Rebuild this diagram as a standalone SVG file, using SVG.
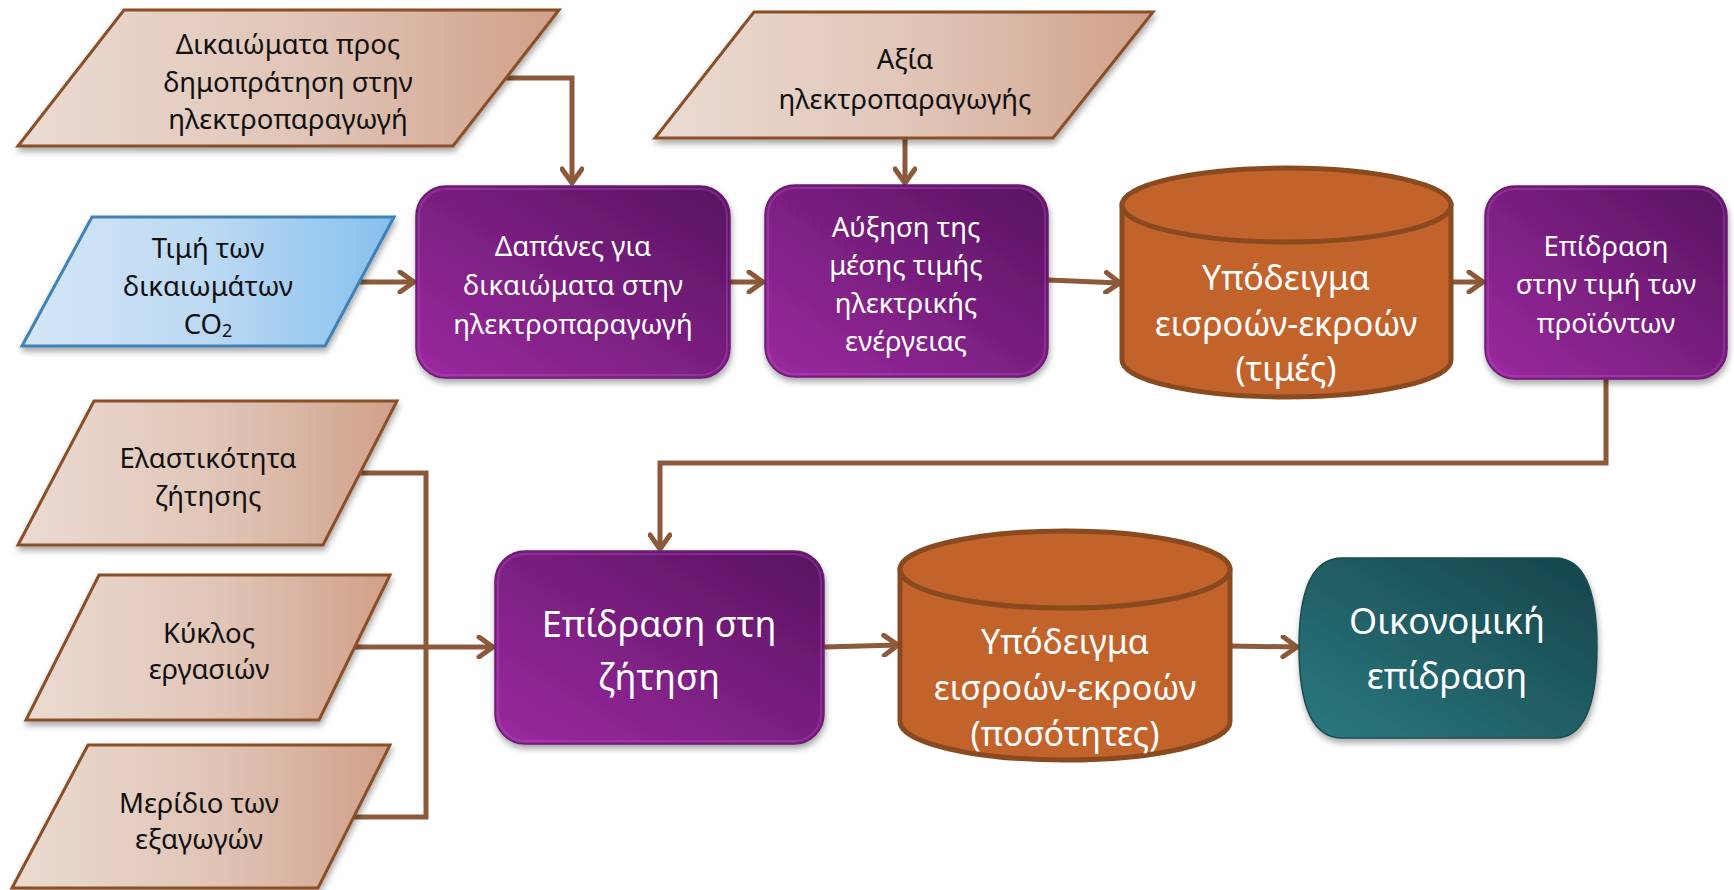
<svg xmlns="http://www.w3.org/2000/svg" width="1734" height="890" viewBox="0 0 1734 890">
<defs>
<linearGradient id="parGrad" x1="0" y1="0" x2="1" y2="0"><stop offset="0" stop-color="#ebdbd2"/><stop offset="0.55" stop-color="#e0c4b6"/><stop offset="1" stop-color="#d0a089"/></linearGradient>
<linearGradient id="blueGrad" x1="0" y1="0" x2="1" y2="0"><stop offset="0" stop-color="#d4e6f7"/><stop offset="0.5" stop-color="#bcd9f3"/><stop offset="1" stop-color="#86c0ee"/></linearGradient>
<linearGradient id="purpleGrad" x1="1" y1="0" x2="0" y2="1"><stop offset="0" stop-color="#561360"/><stop offset="0.5" stop-color="#7a1f80"/><stop offset="1" stop-color="#9b2aa0"/></linearGradient>
<linearGradient id="tealGrad" x1="1" y1="0" x2="0" y2="1"><stop offset="0" stop-color="#17444a"/><stop offset="1" stop-color="#2a7980"/></linearGradient>
<filter id="shadow" x="-10%" y="-10%" width="120%" height="130%"><feDropShadow dx="1" dy="4" stdDeviation="3" flood-color="#000" flood-opacity="0.35"/></filter>
<marker id="arrow" viewBox="0 0 20 24" refX="17" refY="12" markerWidth="20" markerHeight="24" markerUnits="userSpaceOnUse" orient="auto"><path d="M3,2 L17,12 L3,22" fill="none" stroke="#8c5a3a" stroke-width="5" stroke-linecap="round" stroke-linejoin="round"/></marker>
</defs>
<style>
.par{fill:url(#parGrad);stroke:#8a4f27;stroke-width:3;filter:url(#shadow)}
.blue{fill:url(#blueGrad);stroke:#3f81b6;stroke-width:3;filter:url(#shadow)}
.proc{fill:url(#purpleGrad);stroke:#6a1d70;stroke-width:1.5;filter:url(#shadow)}
.bevel{fill:none;stroke:#c050c8;stroke-opacity:0.35;stroke-width:2}
.cyl{fill:#c3632c;stroke:#8a4a1f;stroke-width:5}
.term{fill:url(#tealGrad);stroke:#1a4c52;stroke-width:1.5;filter:url(#shadow)}
text{font-family:"Noto Sans","DejaVu Sans",sans-serif;text-anchor:middle;dominant-baseline:central}
.dark{fill:#111;font-size:27.5px}
.light{fill:#fff;font-size:27.5px}
.big{fill:#fff;font-size:36px}
.cylt{fill:#fff;font-size:34px}
.conn{fill:none;stroke:#8c5a3a;stroke-width:5}
</style>

<g id="connectors">
<path class="conn" d="M506,78 H572 V183" marker-end="url(#arrow)"/>
<path class="conn" d="M359,282 H414" marker-end="url(#arrow)"/>
<path class="conn" d="M905,138 V183" marker-end="url(#arrow)"/>
<path class="conn" d="M730,282 H763" marker-end="url(#arrow)"/>
<path class="conn" d="M1048,280 L1120,283" marker-end="url(#arrow)"/>
<path class="conn" d="M1451,282 H1483" marker-end="url(#arrow)"/>
<path class="conn" d="M1606,379 V463 H660 V549" marker-end="url(#arrow)"/>
<path class="conn" d="M360,473 H426 V647"/>
<path class="conn" d="M354,817 H426 V647"/>
<path class="conn" d="M355,647 H493" marker-end="url(#arrow)"/>
<path class="conn" d="M824,647 L898,645" marker-end="url(#arrow)"/>
<path class="conn" d="M1230,646 L1297,647" marker-end="url(#arrow)"/>
</g>

<g id="n-dikaiomata">
<polygon class="par" points="124,10 559,10 453,146 18,146"/>
<text class="dark" x="288" y="43">Δικαιώματα προς</text>
<text class="dark" x="288" y="81">δημοπράτηση στην</text>
<text class="dark" x="288" y="118">ηλεκτροπαραγωγή</text>
</g>

<g id="n-timi-co2">
<polygon class="blue" points="92,217 394,217 325,346 22,346"/>
<text class="dark" x="208" y="247">Τιμή των</text>
<text class="dark" x="208" y="285">δικαιωμάτων</text>
<text class="dark" x="208" y="323">CO<tspan font-size="18" dy="7">2</tspan></text>
</g>

<g id="n-dapanes">
<rect class="proc" x="416" y="186" width="314" height="192" rx="30"/>
<rect class="bevel" x="419" y="189" width="308" height="186" rx="27"/>
<text class="light" x="573" y="245">Δαπάνες για</text>
<text class="light" x="573" y="284">δικαιώματα στην</text>
<text class="light" x="573" y="323">ηλεκτροπαραγωγή</text>
</g>

<g id="n-axia">
<polygon class="par" points="754,12 1153,12 1053,138 655,138"/>
<text class="dark" x="905" y="58">Αξία</text>
<text class="dark" x="905" y="98">ηλεκτροπαραγωγής</text>
</g>

<g id="n-afxisi">
<rect class="proc" x="765" y="185" width="283" height="192" rx="30"/>
<rect class="bevel" x="768" y="188" width="277" height="186" rx="27"/>
<text class="light" x="906" y="226">Αύξηση της</text>
<text class="light" x="906" y="264">μέσης τιμής</text>
<text class="light" x="906" y="302">ηλεκτρικής</text>
<text class="light" x="906" y="340">ενέργειας</text>
</g>

<g id="n-ypodeigma-times">
<path class="cyl" d="M1122,205 V360 A164.5,37 0 0 0 1451,360 V205 Z"/>
<ellipse class="cyl" cx="1286.5" cy="205" rx="164.5" ry="37"/>
<text class="cylt" x="1286" y="277">Υπόδειγμα</text>
<text class="cylt" x="1286" y="323">εισροών-εκροών</text>
<text class="cylt" x="1286" y="368">(τιμές)</text>
</g>

<g id="n-epidrasi-timi">
<rect class="proc" x="1485" y="186" width="242" height="193" rx="30"/>
<rect class="bevel" x="1488" y="189" width="236" height="187" rx="27"/>
<text class="light" x="1606" y="245">Επίδραση</text>
<text class="light" x="1606" y="283">στην τιμή των</text>
<text class="light" x="1606" y="322">προϊόντων</text>
</g>

<g id="n-elastikotita">
<polygon class="par" points="94,401 397,401 323,545 18,545"/>
<text class="dark" x="208" y="457">Ελαστικότητα</text>
<text class="dark" x="208" y="495">ζήτησης</text>
</g>

<g id="n-kyklos">
<polygon class="par" points="99,575 390,575 319,720 26,720"/>
<text class="dark" x="209" y="632">Κύκλος</text>
<text class="dark" x="209" y="668">εργασιών</text>
</g>

<g id="n-meridio">
<polygon class="par" points="88,745 390,745 318,888 12,888"/>
<text class="dark" x="199" y="802">Μερίδιο των</text>
<text class="dark" x="199" y="838">εξαγωγών</text>
</g>

<g id="n-epidrasi-zitisi">
<rect class="proc" x="495" y="551" width="329" height="193" rx="30"/>
<rect class="bevel" x="498" y="554" width="323" height="187" rx="27"/>
<text class="big" x="659" y="623">Επίδραση στη</text>
<text class="big" x="659" y="676">ζήτηση</text>
</g>

<g id="n-ypodeigma-posotites">
<path class="cyl" d="M900,569.5 V721.5 A165,38.5 0 0 0 1230,721.5 V569.5 Z"/>
<ellipse class="cyl" cx="1065" cy="569.5" rx="165" ry="38.5"/>
<text class="cylt" x="1065" y="641">Υπόδειγμα</text>
<text class="cylt" x="1065" y="687">εισροών-εκροών</text>
<text class="cylt" x="1065" y="733">(ποσότητες)</text>
</g>

<g id="n-oikonomiki">
<path class="term" d="M1342,558 H1555 Q1597,558 1597,647 Q1597,738 1555,738 H1342 Q1299,738 1299,647 Q1299,558 1342,558 Z"/>
<text class="big" x="1447" y="620">Οικονομική</text>
<text class="big" x="1447" y="675">επίδραση</text>
</g>
</svg>
